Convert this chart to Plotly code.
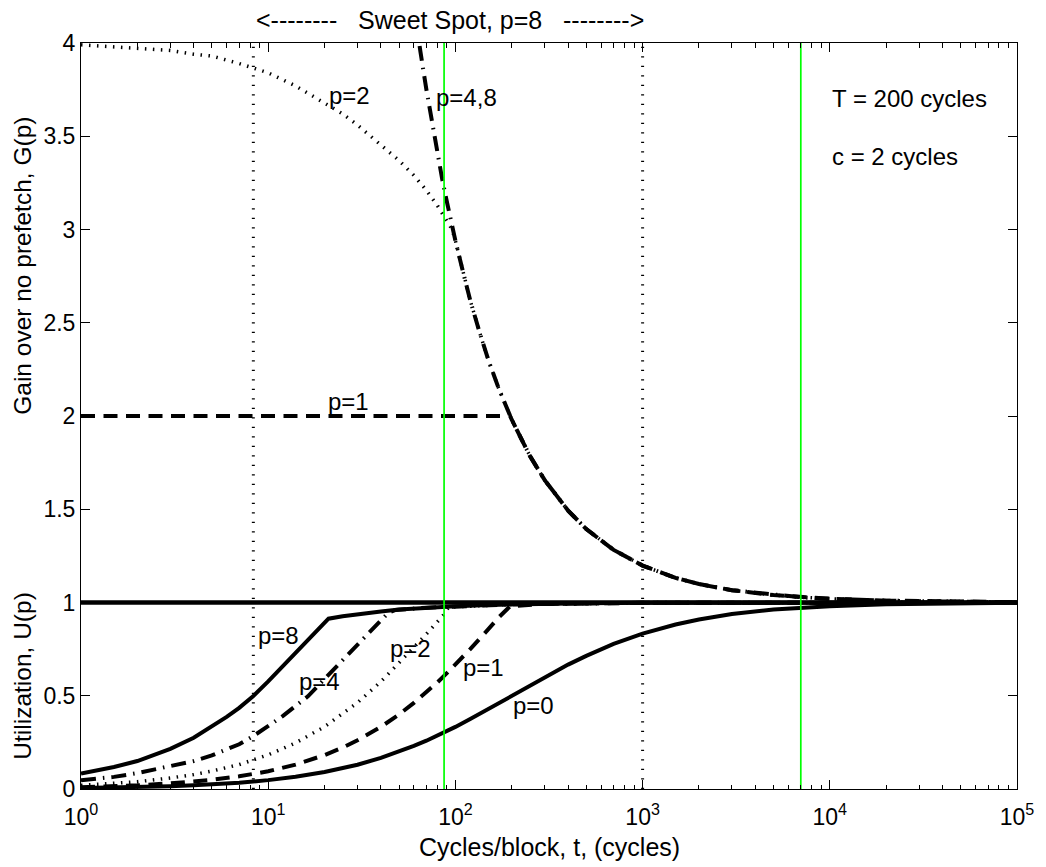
import math
import plotly.graph_objects as go

# values (t = cycles per block)
t_u0 = [1, 1.5, 2, 3, 4, 5, 7, 10, 14, 20, 25, 30, 40, 50, 60, 70, 80, 90, 100, 120, 150,
        200, 250, 300, 400, 500, 700, 1000, 1500, 2000, 3000, 5000, 7000, 10000, 20000,
        50000, 100000]
u_p0 = [0.005, 0.0074, 0.0099, 0.0148, 0.0196, 0.0244, 0.0338, 0.0476, 0.0654, 0.0909, 0.111,
        0.130, 0.167, 0.200, 0.231, 0.259, 0.286, 0.310, 0.333, 0.375, 0.429, 0.500, 0.556,
        0.600, 0.667, 0.714, 0.778, 0.833, 0.882, 0.909, 0.938, 0.962, 0.972, 0.980, 0.990,
        0.996, 0.998]

t_u1 = [1, 1.5, 2, 3, 4, 5, 7, 10, 14, 20, 25, 30, 40, 50, 60, 70, 80, 90, 100, 120, 150,
        170, 196, 300, 1000, 100000]
u_p1 = [0.010, 0.015, 0.020, 0.030, 0.039, 0.049, 0.068, 0.095, 0.131, 0.182, 0.222, 0.261,
        0.333, 0.400, 0.462, 0.519, 0.571, 0.621, 0.667, 0.750, 0.857, 0.919, 0.980, 0.993,
        0.998, 1.0]

t_u2 = [1, 1.5, 2, 3, 4, 5, 7, 10, 14, 20, 25, 30, 40, 50, 60, 70, 80, 86, 92, 200, 1000,
        100000]
u_p2 = [0.020, 0.029, 0.039, 0.059, 0.077, 0.096, 0.131, 0.183, 0.247, 0.334, 0.402, 0.463,
        0.576, 0.674, 0.760, 0.831, 0.895, 0.930, 0.975, 0.990, 0.998, 1.0]

t_u4 = [1, 1.5, 2, 3, 4, 5, 6, 7, 8.3, 10, 12, 14, 16.3, 20, 25, 30, 35, 40, 44, 48, 70, 200,
        1000, 100000]
u_p4 = [0.047, 0.065, 0.085, 0.120, 0.150, 0.180, 0.210, 0.240, 0.283, 0.335, 0.392, 0.445,
        0.497, 0.590, 0.690, 0.775, 0.845, 0.905, 0.947, 0.960, 0.972, 0.990, 0.998, 1.0]

t_u8 = [1, 1.25, 1.5, 2, 2.5, 3, 4, 5, 6, 7, 8.3, 10, 12, 14, 16, 18, 21, 25, 30, 40, 50, 70,
        100, 150, 200, 500, 1000, 10000, 100000]
u_p8 = [0.083, 0.101, 0.118, 0.150, 0.183, 0.215, 0.275, 0.335, 0.387, 0.435, 0.497, 0.577,
        0.660, 0.735, 0.795, 0.850, 0.913, 0.926, 0.938, 0.952, 0.962, 0.972, 0.980, 0.987,
        0.990, 0.996, 0.998, 1.0, 1.0]

t_ideal = [1, 100000]
u_ideal = [1.0, 1.0]

t_tail = [200, 250, 300, 400, 500, 700, 1000, 1500, 2000, 3000, 5000, 7000, 10000, 20000,
          50000, 100000]
g_tail = [1.98, 1.786, 1.656, 1.493, 1.394, 1.282, 1.198, 1.132, 1.099, 1.066, 1.040, 1.028,
          1.020, 1.010, 1.004, 1.002]

t_g1 = [1, 196]
g_p1 = [2.0, 2.0]

t_g2 = [1, 1.5, 2, 3, 4, 5, 7, 10, 14, 20, 25, 30, 40, 50, 60, 70, 80, 88, 96, 100, 110, 120,
        135, 150, 170]
g_p2 = [3.99, 3.98, 3.97, 3.96, 3.94, 3.93, 3.89, 3.84, 3.77, 3.68, 3.62, 3.56, 3.45, 3.37,
        3.29, 3.21, 3.13, 3.06, 3.00, 2.94, 2.77, 2.62, 2.445, 2.30, 2.15]

t_g48 = [55, 60, 65, 70, 75, 80, 85, 90, 95, 100, 110, 120, 135, 150, 170]
g_p48 = [4.47, 4.19, 3.955, 3.75, 3.57, 3.41, 3.27, 3.15, 3.04, 2.94, 2.77, 2.62, 2.445, 2.30,
         2.15]

sweet_spot_t = [8.33, 1000]
green_t = [87, 7000]

x_tickvals = [1, 10, 100, 1000, 10000, 100000]
x_ticktext = ["10<sup>0</sup>", "10<sup>1</sup>", "10<sup>2</sup>", "10<sup>3</sup>",
              "10<sup>4</sup>", "10<sup>5</sup>"]
x_minor = [m * 10 ** d for d in range(5) for m in range(2, 10)]

FONT = "Arial, Liberation Sans, Helvetica, sans-serif"
BLACK = "black"
DASH = "14px,8.5px"
DOT = "1.5px,6.5px"
DASHDOT = "15px,7px,1.5px,7px"

fig = go.Figure()


def curve(t, y, width=4, dash="solid", color=BLACK):
    fig.add_trace(go.Scatter(x=t, y=y, mode="lines", showlegend=False, hoverinfo="skip",
                             line=dict(color=color, width=width, dash=dash)))


# dotted sweet-spot bounds
for tv in sweet_spot_t:
    curve([tv, tv], [0, 4], width=3, dash="1.3px,8.2px")

# utilization
curve(t_ideal, u_ideal, width=4.5)
curve(t_u0, u_p0)
curve(t_u1, u_p1, dash=DASH)
curve(t_u2, u_p2, width=3.5, dash=DOT)
curve(t_u4, u_p4, dash=DASHDOT)
curve(t_u8, u_p8)

# gain: every p follows the same tail once it saturates
curve(t_g1 + t_tail, g_p1 + g_tail, dash=DASH)
curve(t_g2 + t_tail, g_p2 + g_tail, width=3.5, dash=DOT)
curve(t_g48 + t_tail, g_p48 + g_tail, dash=DASHDOT)

for tv in green_t:
    curve([tv, tv], [0, 4], width=1.7, color="rgb(0,255,0)")

labels = [
    ("p=2", 20.6, 3.72), ("p=4,8", 77, 3.71), ("p=1", 20.4, 2.08),
    ("T = 200 cycles", 10000, 3.70), ("c = 2 cycles", 10000, 3.39),
    ("p=8", 8.6, 0.822), ("p=4", 14.3, 0.579), ("p=2", 43.6, 0.755),
    ("p=1", 107, 0.649), ("p=0", 199, 0.447),
]
for txt, tx, ty in labels:
    fig.add_annotation(x=math.log10(tx), y=ty, text=txt, showarrow=False,
                       xanchor="left", yanchor="middle", font=dict(size=24, color=BLACK))

sp = "\u00a0\u00a0\u00a0"
fig.add_annotation(x=math.log10(93.3), y=1.0313, yref="paper",
                   text="<--------" + sp + "Sweet Spot, p=8" + sp + "-------->",
                   showarrow=False, xanchor="center", yanchor="middle",
                   font=dict(size=25, color=BLACK))
fig.add_annotation(x=-0.0627, xref="paper", y=0.604, text="Utilization, U(p)",
                   textangle=-90, showarrow=False, xanchor="center", yanchor="middle",
                   font=dict(size=24.5, color=BLACK))
fig.add_annotation(x=-0.0627, xref="paper", y=2.807, text="Gain over no prefetch, G(p)",
                   textangle=-90, showarrow=False, xanchor="center", yanchor="middle",
                   font=dict(size=24.5, color=BLACK))
fig.add_annotation(x=0.5, xref="paper", y=-0.0782, yref="paper",
                   text="Cycles/block, t, (cycles)", showarrow=False,
                   xanchor="center", yanchor="middle", font=dict(size=25, color=BLACK))

fig.update_xaxes(type="log", range=[0, 5], tickmode="array", tickvals=x_tickvals,
                 ticktext=x_ticktext, ticks="inside", ticklen=9, tickwidth=1,
                 tickcolor=BLACK, showline=True, linecolor=BLACK, linewidth=1,
                 mirror="allticks", showgrid=False, zeroline=False, ticklabelstandoff=7,
                 tickfont=dict(size=23, color=BLACK),
                 minor=dict(tickmode="array", tickvals=x_minor, ticks="inside", ticklen=4.5,
                            tickcolor=BLACK, tickwidth=1, showgrid=False))
fig.update_yaxes(range=[0, 4], dtick=0.5, ticks="inside", ticklen=9, tickwidth=1,
                 tickcolor=BLACK, showline=True, linecolor=BLACK, linewidth=1,
                 mirror="allticks", showgrid=False, zeroline=False,
                 tickfont=dict(size=23, color=BLACK))

fig.update_layout(width=1046, height=867, margin=dict(l=81, r=21, t=43, b=78),
                  plot_bgcolor="white", paper_bgcolor="white",
                  font=dict(family=FONT, color=BLACK), showlegend=False)

fig.write_html("out.html", config={"displayModeBar": False},
               post_script="document.body.style.margin='0';")
